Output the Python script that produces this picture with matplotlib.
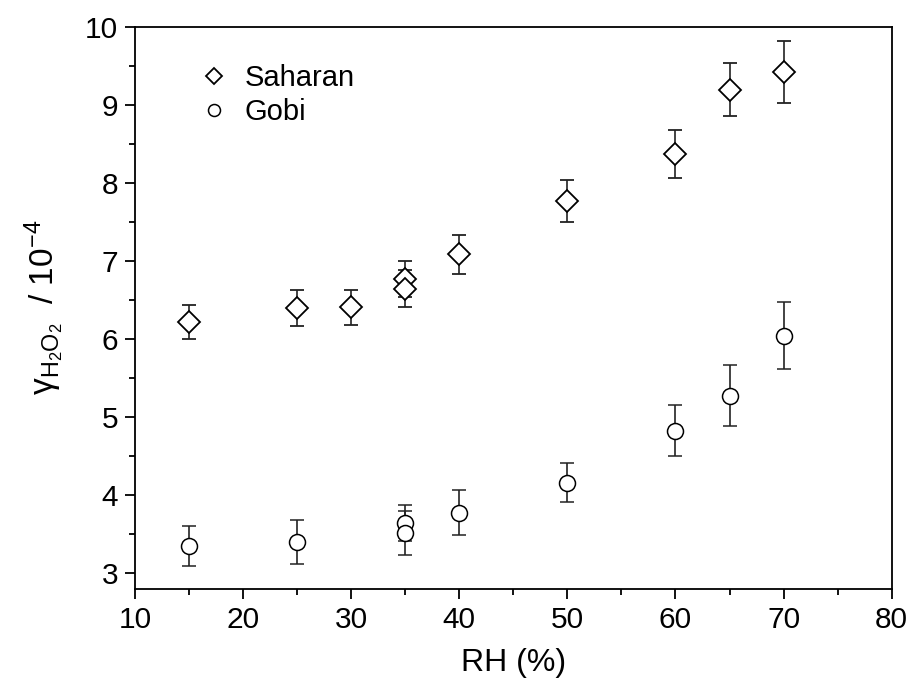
import matplotlib
matplotlib.use("Agg")
import matplotlib.pyplot as plt
from matplotlib.ticker import MultipleLocator

plt.rcParams['font.family'] = ['Liberation Sans', 'DejaVu Sans']
plt.rcParams['mathtext.fontset'] = 'custom'
plt.rcParams['mathtext.rm'] = 'Liberation Sans'
plt.rcParams['mathtext.it'] = 'Liberation Sans:italic'

# Data
saharan_rh = [15, 25, 30, 35, 35, 40, 50, 60, 65, 70]
saharan_gamma = [6.21, 6.39, 6.40, 6.76, 6.64, 7.08, 7.77, 8.37, 9.19, 9.42]
saharan_err = [0.22, 0.23, 0.23, 0.23, 0.24, 0.25, 0.27, 0.31, 0.34, 0.40]

gobi_rh = [15, 25, 35, 35, 40, 50, 60, 65, 70]
gobi_gamma = [3.34, 3.39, 3.64, 3.51, 3.77, 4.15, 4.82, 5.27, 6.04]
gobi_err = [0.26, 0.28, 0.23, 0.28, 0.29, 0.25, 0.33, 0.39, 0.43]

fig = plt.figure(figsize=(9.12, 6.93), dpi=100)
ax = fig.add_axes([0.148, 0.150, 0.8297, 0.8115])

ekw = dict(ecolor='#222222', elinewidth=1.2, capsize=5.2, capthick=1.2, linestyle='none')
ax.errorbar(saharan_rh, saharan_gamma, yerr=saharan_err, marker='D', ms=11,
            mfc='white', mec='black', mew=1.3, label='Saharan', **ekw)
ax.errorbar(gobi_rh, gobi_gamma, yerr=gobi_err, marker='o', ms=11.5,
            mfc='white', mec='black', mew=1.1, label='Gobi', **ekw)

ax.set_xlim(10, 80)
ax.set_ylim(2.79, 10)
ax.xaxis.set_major_locator(MultipleLocator(10))
ax.xaxis.set_minor_locator(MultipleLocator(5))
ax.yaxis.set_major_locator(MultipleLocator(1))
ax.yaxis.set_minor_locator(MultipleLocator(0.5))
ax.tick_params(which='major', direction='out', length=7, width=1.3, labelsize=21.5, pad=5)
ax.tick_params(which='minor', direction='out', length=4, width=1.3)
for s in ax.spines.values():
    s.set_linewidth(1.3)

ax.set_xlabel('RH (%)', fontsize=23, labelpad=10)
ax.set_ylabel('γ$_{\\mathrm{H_2O_2}}$  / 10$^{-4}$', fontsize=24, labelpad=14)

handles, labels = ax.get_legend_handles_labels()
handles = [h[0] for h in handles]
ax.legend(handles, labels, loc='upper left', bbox_to_anchor=(0.05, 0.98),
          frameon=False, fontsize=21, markerscale=0.75, handlelength=1.0,
          handletextpad=0.55, labelspacing=0.2)

fig.savefig('out.png', dpi=100)
